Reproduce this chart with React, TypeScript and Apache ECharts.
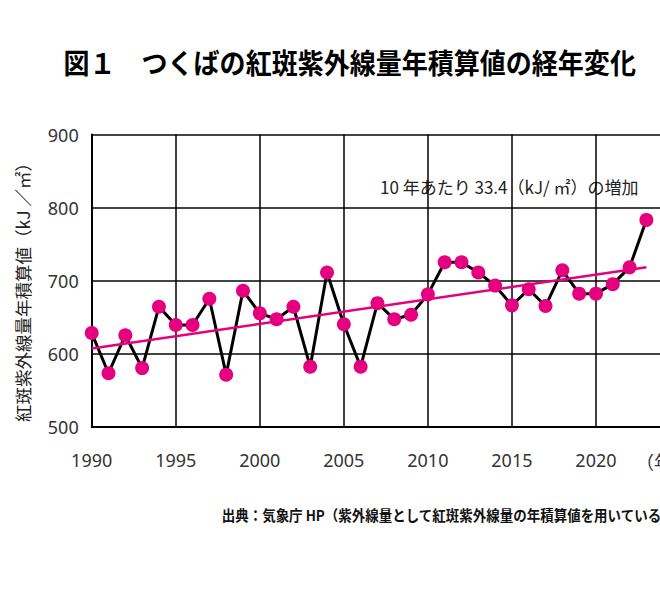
import React, { useEffect, useRef } from "react";
import * as echarts from "echarts";

const years = [
  1990, 1991, 1992, 1993, 1994, 1995, 1996, 1997, 1998, 1999,
  2000, 2001, 2002, 2003, 2004, 2005, 2006, 2007, 2008, 2009,
  2010, 2011, 2012, 2013, 2014, 2015, 2016, 2017, 2018, 2019,
  2020, 2021, 2022, 2023,
];
const uvValues = [
  628, 573, 625, 580, 664, 639, 639, 675, 571, 686,
  655, 647, 664, 582, 711, 640, 582, 669, 647, 653,
  681, 725, 725, 711, 693, 666, 688, 665, 714, 682,
  682, 695, 718, 783,
];
const trendYears = [1990, 2023];
const trendValues = [607, 718];

const titleText = "図１　つくばの紅斑紫外線量年積算値の経年変化";
const yAxisName = "紅斑紫外線量年積算値（kJ ／㎡）";
const trendNote = "10 年あたり 33.4（kJ/ ㎡）の増加";
const xUnit = "（年）";
const sourceText = "出典：気象庁 HP（紫外線量として紅斑紫外線量の年積算値を用いている）";

const PINK = "#E4007F";
const FONT = "'Noto Sans CJK JP', 'Noto Sans', sans-serif";

export default function App() {
  const ref = useRef<HTMLDivElement>(null);
  useEffect(() => {
    if (!ref.current) return;
    const chart = echarts.init(ref.current, undefined, { renderer: "svg" });
    const pts = years.map((y, i) => [y, uvValues[i]]);
    const trend = trendYears.map((y, i) => [y, trendValues[i]]);
    chart.setOption({
      animation: false,
      backgroundColor: "#fff",
      grid: { left: 91.7, right: 20, top: 134.5, bottom: 162.5, containLabel: false },
      xAxis: {
        type: "value",
        min: 1990,
        max: 2025,
        interval: 5,
        axisLine: { show: true, lineStyle: { color: "#000", width: 2 } },
        axisTick: { show: false },
        splitLine: { show: true, lineStyle: { color: "#000", width: 1.5 } },
        axisLabel: {
          formatter: (v: number) => (v <= 2020 ? String(v) : ""),
          fontSize: 18,
          fontFamily: "'Noto Sans', sans-serif",
          color: "#333",
          margin: 24,
        },
      },
      yAxis: {
        type: "value",
        min: 500,
        max: 900,
        interval: 100,
        axisLine: { show: true, lineStyle: { color: "#000", width: 2 } },
        axisTick: { show: false },
        splitLine: { show: true, lineStyle: { color: "#444", width: 2 } },
        axisLabel: {
          fontSize: 18,
          fontFamily: "'Noto Sans', sans-serif",
          color: "#333",
          margin: 13,
        },
      },
      series: [
        {
          type: "line",
          data: pts,
          showSymbol: false,
          lineStyle: { color: "#000", width: 3 },
          z: 2,
        },
        {
          type: "line",
          data: trend,
          showSymbol: false,
          lineStyle: { color: PINK, width: 2.5 },
          z: 3,
        },
        {
          type: "scatter",
          data: pts,
          symbolSize: 14,
          itemStyle: { color: PINK, opacity: 1 },
          z: 4,
        },
      ],
      graphic: [
        {
          type: "text",
          x: 63.5,
          y: 62,
          scaleX: 0.93,
          style: {
            text: titleText,
            fontSize: 28,
            fontWeight: "bold",
            fontFamily: FONT,
            fill: "#000",
            align: "left",
            verticalAlign: "middle",
          },
        },
        {
          type: "text",
          x: 380,
          y: 186,
          style: {
            text: trendNote,
            fontSize: 17,
            fontFamily: FONT,
            fill: "#222",
            align: "left",
            verticalAlign: "middle",
          },
        },
        {
          type: "text",
          x: 22,
          y: 288,
          rotation: Math.PI / 2,
          style: {
            text: yAxisName,
            fontSize: 17.5,
            fontFamily: FONT,
            fill: "#222",
            align: "center",
            verticalAlign: "middle",
          },
        },
        {
          type: "text",
          x: 636,
          y: 461,
          style: {
            text: xUnit,
            fontSize: 18,
            fontFamily: FONT,
            fill: "#333",
            align: "left",
            verticalAlign: "middle",
          },
        },
        {
          type: "text",
          x: 221.7,
          y: 515,
          scaleX: 0.93,
          style: {
            text: sourceText,
            fontSize: 14.5,
            fontWeight: "bold",
            fontFamily: FONT,
            fill: "#111",
            align: "left",
            verticalAlign: "middle",
          },
        },
      ],
    });
    return () => chart.dispose();
  }, []);
  return (
    <div
      style={{
        position: "absolute",
        left: 0,
        top: 0,
        width: 660,
        height: 589,
        overflow: "hidden",
        background: "#fff",
      }}
    >
      <div ref={ref} style={{ width: 700, height: 589 }} />
    </div>
  );
}
